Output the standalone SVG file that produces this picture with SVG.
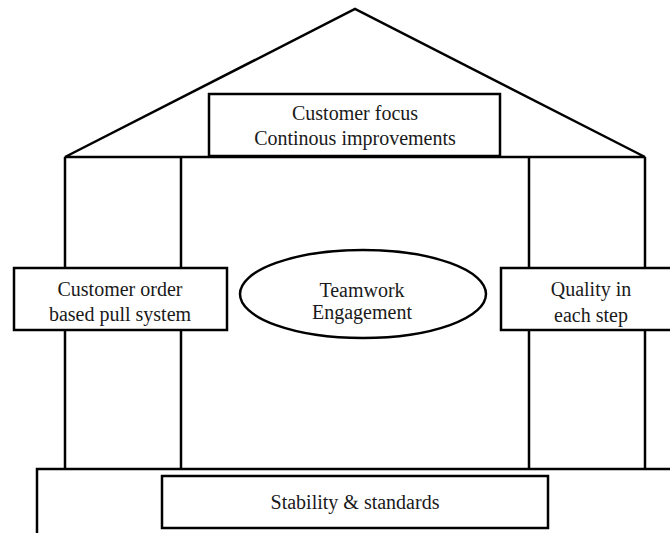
<svg xmlns="http://www.w3.org/2000/svg" width="670" height="533" viewBox="0 0 670 533">
<style>
.s{fill:none;stroke:#000;stroke-width:2.5}
.b{fill:#fff;stroke:#000;stroke-width:2.5}
text{font-family:"Liberation Serif","Times New Roman",serif;font-size:20px;fill:#1a1a1a;text-anchor:middle}
</style>
<rect width="670" height="533" fill="#fff"/>
<g id="connectors">
<path class="s" d="M65,157 L355,9 L645,157 Z"/>
<path class="s" d="M65,157 V469 M181,157 V469 M529,157 V469 M645,157 V469"/>
<path class="s" d="M37,533 V469 H672"/>
</g>
<g id="roof-box">
<rect class="b" x="209" y="94" width="291" height="62"/>
<text x="355" y="120">Customer focus</text>
<text x="355" y="145">Continous improvements</text>
</g>
<g id="left-pillar">
<rect class="b" x="14" y="268" width="213" height="62"/>
<text x="120" y="296">Customer order</text>
<text x="120" y="321">based pull system</text>
</g>
<g id="center">
<ellipse class="b" cx="363" cy="294" rx="123" ry="44"/>
<text x="362" y="297">Teamwork</text>
<text x="362" y="319">Engagement</text>
</g>
<g id="right-pillar">
<rect class="b" x="501" y="268" width="180" height="62"/>
<text x="591" y="296">Quality in</text>
<text x="591" y="322">each step</text>
</g>
<g id="base">
<rect class="b" x="162" y="476" width="386" height="52"/>
<text x="355" y="509">Stability &amp; standards</text>
</g>
</svg>
